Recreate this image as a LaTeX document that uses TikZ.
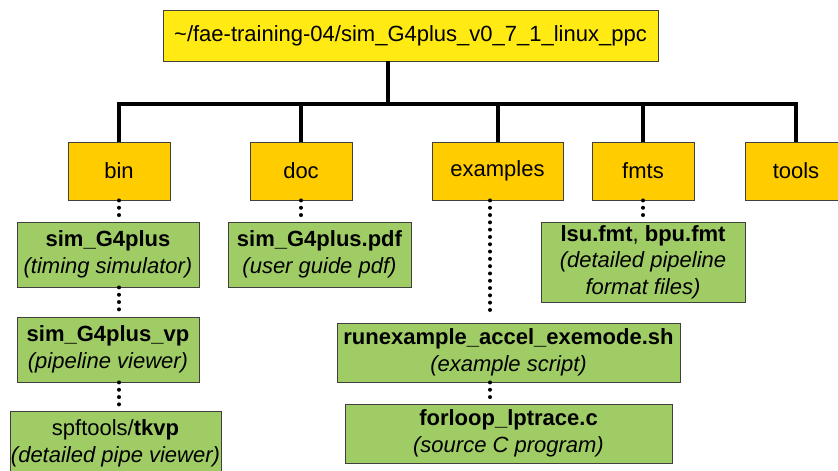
\documentclass[tikz,border=0pt]{standalone}
\usepackage{fontspec}
\setmainfont{Liberation Sans}
\begin{document}
\begin{tikzpicture}[x=1pt,y=-1pt,
  font=\fontsize{22}{26.5}\selectfont,
  box/.style={draw=black!75,line width=0.9pt,inner sep=0pt,align=center,
    minimum height=#1},
  rootbox/.style={box=51pt,fill=rootyellow},
  dirbox/.style={box=58pt,fill=diryellow,minimum width=102pt},
  filebox/.style={box=65pt,fill=filegreen},
  tree/.style={line width=4pt,line join=miter},
  dotline/.style={line width=4pt,line cap=round,dash pattern=on 0pt off 7.3pt,
    shorten >=6pt}]
\definecolor{rootyellow}{RGB}{255,234,20}
\definecolor{diryellow}{RGB}{255,204,0}
\definecolor{filegreen}{RGB}{160,204,102}
\useasboundingbox (0,0) rectangle (838,471);

% top-level directory
\node[rootbox,minimum width=495pt] (root) at (410.5,35.5)
  {\char"7E/fae-training-04/sim\_G4plus\_v0\_7\_1\_linux\_ppc};

% sub-directories
\node[dirbox] (bin) at (119,171) {bin};
\node[dirbox] (doc) at (301,171) {doc};
\node[dirbox,minimum width=131pt] (ex) at (497.5,171) {examples};
\node[dirbox] (fmts) at (643,171) {fmts};
\node[dirbox] (tools) at (796,171) {tools};

% files
\node[filebox,minimum width=182pt] (sim) at (108,254.5)
  {\textbf{sim\_G4plus}\\\textit{(timing simulator)}};
\node[filebox,minimum width=183pt] (pdf) at (319.5,254.5)
  {\textbf{sim\_G4plus.pdf}\\\textit{(user guide pdf)}};
\node[filebox,minimum width=204pt,minimum height=80pt] (fmt) at (643,262)
  {\textbf{lsu.fmt}, \textbf{bpu.fmt}\\\textit{(detailed pipeline}\\\textit{format files)}};
\node[filebox,minimum width=182pt] (vp) at (108,349.5)
  {\textbf{sim\_G4plus\_vp}\\\textit{(pipeline viewer)}};
\node[filebox,minimum width=211pt] (tkvp) at (115.5,443.5)
  {spftools/\textbf{tkvp}\\\textit{(detailed pipe viewer)}};
\node[filebox,minimum width=343pt,minimum height=59pt] (run) at (508.5,352.5)
  {\textbf{runexample\_accel\_exemode.sh}\\\textit{(example script)}};
\node[filebox,minimum width=327pt,minimum height=59pt] (src) at (508.5,433.5)
  {\textbf{forloop\_lptrace.c}\\\textit{(source C program)}};

% solid tree connectors
\coordinate (hub) at (388,104);
\draw[tree] (root.south -| hub) -- (hub);
\draw[tree] (bin.north) |- (hub) -| (tools.north);
\draw[tree] (doc.north) -- (doc.north |- hub);
\draw[tree] (ex.north) -- (ex.north |- hub);
\draw[tree] (fmts.north) -- (fmts.north |- hub);

% dotted file connectors
\coordinate (exdot) at ([xshift=-7.5pt]ex.south);
\draw[dotline] (bin.south) -- (bin.south |- sim.north);
\draw[dotline] (bin.south |- sim.south) -- (bin.south |- vp.north);
\draw[dotline] (bin.south |- vp.south) -- (bin.south |- tkvp.north);
\draw[dotline] (doc.south) -- (doc.south |- pdf.north);
\draw[dotline] (fmts.south) -- (fmt.north);
\draw[dotline] (exdot) -- (exdot |- run.north);
\draw[dotline] (exdot |- run.south) -- (exdot |- src.north);
\end{tikzpicture}
\end{document}
